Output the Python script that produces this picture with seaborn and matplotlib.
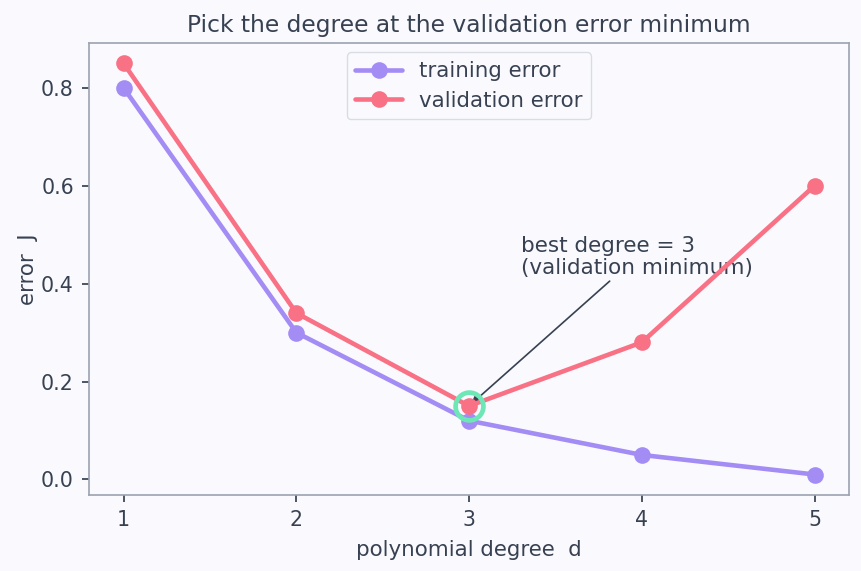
import matplotlib
matplotlib.use("Agg")
import matplotlib.pyplot as plt
import seaborn as sns
import pandas as pd

degrees = [1, 2, 3, 4, 5]
training_error = [0.80, 0.30, 0.12, 0.05, 0.01]
validation_error = [0.85, 0.34, 0.15, 0.28, 0.60]
best_degree = 3
best_value = 0.15

TEXT = "#374151"
BG = "#FAFAFE"
PURPLE = "#A48CF5"
RED = "#F87185"
GREEN = "#6EE7B7"

sns.set_theme(style="ticks")
plt.rcParams.update({
    "font.family": ["DejaVu Sans"],
    "text.color": TEXT,
    "axes.labelcolor": TEXT,
    "xtick.color": TEXT,
    "ytick.color": TEXT,
    "axes.edgecolor": "#9CA3AF",
    "figure.facecolor": BG,
    "axes.facecolor": BG,
    "xtick.major.size": 5,
    "ytick.major.size": 5,
    "xtick.major.pad": 6,
    "ytick.major.pad": 6,
})

df = pd.DataFrame({
    "degree": degrees * 2,
    "error": training_error + validation_error,
    "series": ["training error"] * len(degrees) + ["validation error"] * len(degrees),
})

fig = plt.figure(figsize=(8.62, 5.71), dpi=100)
ax = fig.add_axes([0.1033, 0.133, 0.8817, 0.792])

sns.lineplot(data=df, x="degree", y="error", hue="series",
             palette={"training error": PURPLE, "validation error": RED},
             marker="o", markersize=12, markeredgewidth=0, linewidth=3.3,
             ax=ax, legend=True)

ax.plot([best_degree], [best_value], marker="o", ms=20, mfc="none",
        mec=GREEN, mew=3.4, ls="none", zorder=5)

ax.annotate("best degree = 3\n(validation minimum)",
            xy=(best_degree, best_value), xytext=(3.3, 0.42),
            fontsize=15.5, color=TEXT, zorder=1, linespacing=1.1,
            arrowprops=dict(arrowstyle="-|>", color=TEXT, lw=1.2,
                            mutation_scale=11, shrinkA=0, shrinkB=2))

ax.set_xticks(degrees)
ax.set_yticks([0.0, 0.2, 0.4, 0.6, 0.8])
ax.set_xlabel("polynomial degree  d", fontsize=15.4, labelpad=7)
ax.set_ylabel("error  J", fontsize=15.4, labelpad=2)
ax.set_title("Pick the degree at the validation error minimum", fontsize=16.8,
             color=TEXT, pad=8)
ax.tick_params(labelsize=14.8)
for s in ax.spines.values():
    s.set_visible(True)
    s.set_linewidth(1.2)

leg = ax.legend(loc="upper center", fontsize=15.4, frameon=True, title=None,
                borderaxespad=0.45, handlelength=2.2, labelspacing=0.45)
leg.get_frame().set_facecolor(BG)
leg.get_frame().set_edgecolor("#D1D5DB")
for t in leg.get_texts():
    t.set_color(TEXT)

fig.savefig("out.png", dpi=100, facecolor=BG)
